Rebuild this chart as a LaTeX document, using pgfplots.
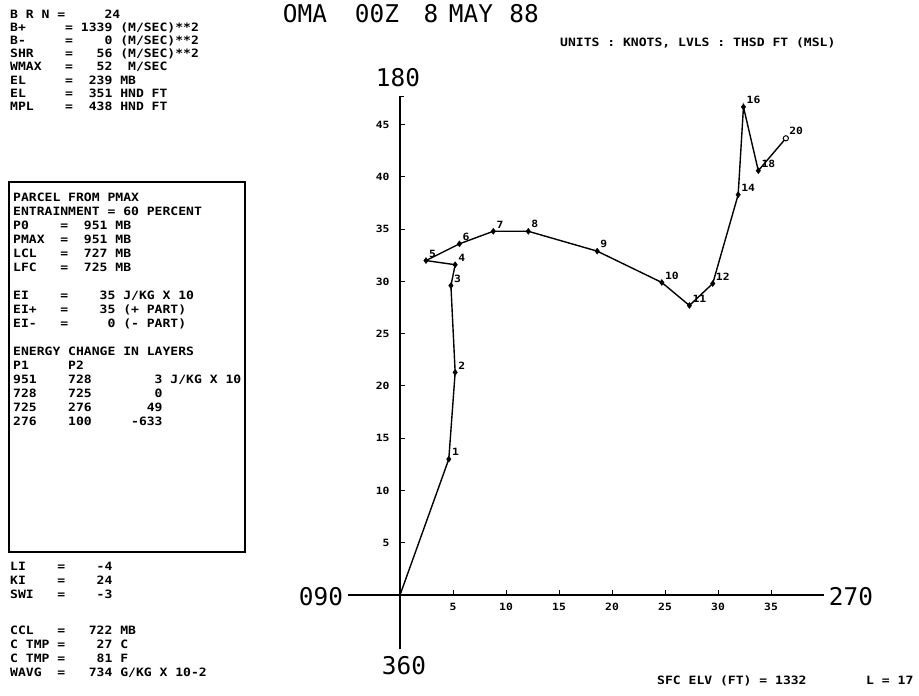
\documentclass[border=0pt]{standalone}
\usepackage{fontspec}
\usepackage{pgfplots}
\pgfplotsset{compat=1.18}
\newfontfamily\smallmono[FakeStretch=1.14]{DejaVu Sans Mono}
\newfontfamily\largemono{DejaVu Sans Mono}
\newcommand\smf{\smallmono\bfseries\fontsize{11.5}{14}\selectfont}
\newcommand\tkf{\smallmono\bfseries\fontsize{10}{12}\selectfont}
\newcommand\lgf{\largemono\fontsize{24.5}{28}\selectfont}
\newcommand\TL[3]{\node[anchor=base west, inner sep=0pt, font=\smf] at (#1, {696-#2-4.2}) {#3};}
\newcommand\BG[3]{\node[inner sep=0pt, font=\lgf] at (#1, {696-#2}) {#3};}
\begin{document}
\begin{tikzpicture}[x=1bp,y=1bp]
\useasboundingbox (0,0) rectangle (919,696);
\begin{axis}[at={(348.1bp,46.7bp)}, anchor=south west, scale only axis,
  width=475.9bp, height=552.8bp,
  xmin=-4.9, xmax=40, ymin=-5.2, ymax=47.7,
  axis lines=middle, axis line style={line width=1.5bp,-},
  xtick={5,10,...,35}, ytick={5,10,...,45},
  tick align=inside, major tick length=5bp,
  tick style={line width=1bp, black},
  xticklabel style={font=\tkf, anchor=north, yshift=-5bp},
  yticklabel style={font=\tkf, anchor=east, xshift=-7bp},
  /pgf/number format/assume math mode=true,
  clip=false]
\addplot[line width=1.4bp, black] coordinates {
 (0,0) (4.6,13.0) (5.2,21.3) (4.8,29.6) (5.2,31.6) (2.45,32.0) (5.6,33.6)
 (8.8,34.8) (12.1,34.8) (18.6,32.9) (24.7,29.9) (27.3,27.7) (29.5,29.8)
 (31.9,38.3) (32.4,46.7) (33.8,40.6) (36.4,43.7)};
\addplot[only marks, mark=diamond*, mark size=3bp, black,
  point meta=explicit symbolic, nodes near coords,
  every node near coord/.append style={font=\tkf, anchor=south west, inner sep=0pt, xshift=3bp, yshift=3bp}]
  coordinates {
 (4.6,13.0)[1] (5.2,21.3)[2] (4.8,29.6)[3] (5.2,31.6)[4] (2.45,32.0)[5] (5.6,33.6)[6]
 (8.8,34.8)[7] (12.1,34.8)[8] (18.6,32.9)[9] (24.7,29.9)[10] (27.3,27.7)[11] (29.5,29.8)[12]
 (31.9,38.3)[14] (32.4,46.7)[16] (33.8,40.6)[18]};
\addplot[only marks, mark=*, mark size=2.6bp, black, mark options={fill=white, line width=1bp},
  point meta=explicit symbolic, nodes near coords,
  every node near coord/.append style={font=\tkf, anchor=south west, inner sep=0pt, xshift=3bp, yshift=3bp}]
  coordinates {(36.4,43.7)[20]};
\draw[line width=1.2bp] (axis cs:0,47.7) -- (axis cs:0.35,47.7);
\end{axis}
% big labels
\BG{305}{14}{OMA}
\BG{377}{14}{00Z}
\BG{431}{14}{8}
\BG{471}{14}{MAY}
\BG{524}{14}{88}
\BG{398}{78}{180}
\BG{321}{597}{090}
\BG{851}{597}{270}
\BG{404}{666}{360}
% header text
\TL{560}{42}{UNITS~:~KNOTS,~LVLS~:~THSD~FT~(MSL)}
\TL{657}{680}{SFC~ELV~(FT)~=~1332}
\TL{866}{680}{L~=~17}
% left column
\TL{10}{14}{B~R~N~=~~~~~24}
\TL{10}{27}{B+~~~~~=~1339~(M/SEC)**2}
\TL{10}{40}{B-~~~~~=~~~~0~(M/SEC)**2}
\TL{10}{53}{SHR~~~~=~~~56~(M/SEC)**2}
\TL{10}{66}{WMAX~~~=~~~52~~M/SEC}
\TL{10}{80}{EL~~~~~=~~239~MB}
\TL{10}{93}{EL~~~~~=~~351~HND~FT}
\TL{10}{106}{MPL~~~~=~~438~HND~FT}
% box
\draw[line width=1.4bp] (9,{696-182}) rectangle (245,{696-552});
\TL{13}{197}{PARCEL~FROM~PMAX}
\TL{13}{211}{ENTRAINMENT~=~60~PERCENT}
\TL{13}{225}{P0~~~~=~~951~MB}
\TL{13}{239}{PMAX~~=~~951~MB}
\TL{13}{253}{LCL~~~=~~727~MB}
\TL{13}{267}{LFC~~~=~~725~MB}
\TL{13}{295}{EI~~~~=~~~~35~J/KG~X~10}
\TL{13}{309}{EI+~~~=~~~~35~(+~PART)}
\TL{13}{323}{EI-~~~=~~~~~0~(-~PART)}
\TL{13}{351}{ENERGY~CHANGE~IN~LAYERS}
\TL{13}{365}{P1~~~~~P2}
\TL{13}{379}{951~~~~728~~~~~~~~3~J/KG~X~10}
\TL{13}{393}{728~~~~725~~~~~~~~0}
\TL{13}{407}{725~~~~276~~~~~~~49}
\TL{13}{421}{276~~~~100~~~~~-633}
% bottom left
\TL{10}{566}{LI~~~~=~~~~-4}
\TL{10}{580}{KI~~~~=~~~~24}
\TL{10}{594}{SWI~~~=~~~~-3}
\TL{10}{630}{CCL~~~=~~~722~MB}
\TL{10}{644}{C~TMP~=~~~~27~C}
\TL{10}{658}{C~TMP~=~~~~81~F}
\TL{10}{672}{WAVG~~=~~~734~G/KG~X~10-2}
\end{tikzpicture}
\end{document}
